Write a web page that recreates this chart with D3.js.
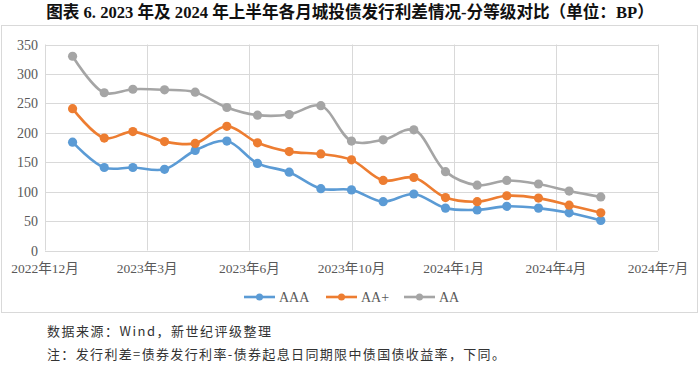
<!DOCTYPE html>
<meta charset="utf-8">
<script src="https://d3js.org/d3.v7.min.js"></script>
<style>
  body { margin: 0; background: #fff; }
  text { font-family: "Liberation Serif", "Noto Sans CJK SC", serif; }
</style>
<svg id="chart" width="700" height="365"></svg>
<script>
// months of 2023 H1 .. 2024 H1 (first of month)
const months = ["2023-01","2023-02","2023-03","2023-04","2023-05","2023-06","2023-07","2023-08","2023-09",
  "2023-10","2023-11","2023-12","2024-01","2024-02","2024-03","2024-04","2024-05","2024-06"];
const aaa   = [184,141,141,138,170,186,148,133,105,103,83,96,72,69,75,72,64,51];
const aaPlus= [241,191,202,185,182,211,183,168,164,154,119,124,90,83,93,89,77,64];
const aa    = [330,268,274,273,269,243,230,231,246,186,188,205,134,111,119,113,101,91];
const series = [
  { name: "AAA", values: aaa,    color: "#5B9BD5" },
  { name: "AA+", values: aaPlus, color: "#ED7D31" },
  { name: "AA",  values: aa,     color: "#A5A5A5" }
];
const yTicks = [0,50,100,150,200,250,300,350];
// Excel-style date axis: starts 2022-12-05, major unit 100 days
const axisStart = new Date(2022, 11, 5);
const xTicks = d3.range(0, 7).map(k => d3.timeDay.offset(axisStart, k * 100));

const svg = d3.select("#chart");
const parse = d3.timeParse("%Y-%m");

// title
svg.append("text")
  .attr("x", 350).attr("y", 17.5)
  .attr("text-anchor", "middle")
  .style("font-size", "16.6px").style("font-weight", "bold")
  .attr("fill", "#111")
  .text("图表 6. 2023 年及 2024 年上半年各月城投债发行利差情况-分等级对比（单位：BP）");

// chart frame
svg.append("rect")
  .attr("x", 1.5).attr("y", 25.5).attr("width", 696).attr("height", 287)
  .attr("fill", "none").attr("stroke", "#d9d9d9");

const x = d3.scaleTime()
  .domain([axisStart, xTicks[xTicks.length - 1]])
  .range([45, 658]);
const y = d3.scaleLinear().domain([0, 350]).range([250.5, 44.5]);

// grid
const g = svg.append("g");
g.selectAll(".hg").data(yTicks).enter().append("line")
  .attr("x1", 45).attr("x2", 658)
  .attr("y1", d => Math.round(y(d)) + 0.5).attr("y2", d => Math.round(y(d)) + 0.5)
  .attr("stroke", "#d9d9d9").attr("stroke-width", 1);
g.selectAll(".vg").data(xTicks).enter().append("line")
  .attr("x1", d => Math.round(x(d)) + 0.5).attr("x2", d => Math.round(x(d)) + 0.5)
  .attr("y1", y(350)).attr("y2", y(0))
  .attr("stroke", "#d9d9d9").attr("stroke-width", 1);

// y labels
svg.selectAll(".yl").data(yTicks).enter().append("text")
  .attr("x", 38).attr("y", d => y(d) + 5)
  .attr("text-anchor", "end")
  .style("font-size", "14px").attr("fill", "#595959")
  .text(d => d);

// x labels
const fmt = d3.timeFormat("%Y年%-m月");
svg.selectAll(".xl").data(xTicks).enter().append("text")
  .attr("x", d => x(d)).attr("y", 273)
  .attr("text-anchor", "middle")
  .style("font-size", "13.5px").attr("fill", "#595959")
  .text(d => fmt(d));

// lines
const line = d3.line()
  .x((d, i) => x(parse(months[i])))
  .y(d => y(d))
  .curve(d3.curveCatmullRom.alpha(0.5));

series.forEach(s => {
  svg.append("path")
    .attr("d", line(s.values))
    .attr("fill", "none").attr("stroke", s.color).attr("stroke-width", 2.6);
  svg.selectAll(null).data(s.values).enter().append("circle")
    .attr("cx", (d, i) => x(parse(months[i])))
    .attr("cy", d => y(d))
    .attr("r", 4.6).attr("fill", s.color);
});

// legend
const legendX = [244, 326, 404];
series.forEach((s, i) => {
  const lg = svg.append("g").attr("transform", `translate(${legendX[i]},297)`);
  lg.append("line").attr("x1", 0).attr("x2", 31).attr("y1", 0).attr("y2", 0)
    .attr("stroke", s.color).attr("stroke-width", 2.6);
  lg.append("circle").attr("cx", 15.5).attr("cy", 0).attr("r", 3.5).attr("fill", s.color);
  lg.append("text").attr("x", 35).attr("y", 5)
    .style("font-size", "14px").attr("fill", "#595959").text(s.name);
});

// notes
svg.append("text").attr("x", 47).attr("y", 336)
  .style("font-size", "13px").style("letter-spacing", "1.5px").attr("fill", "#333")
  .style("font-family", "'Noto Sans CJK SC', sans-serif")
  .text("数据来源：Wind，新世纪评级整理");
svg.append("text").attr("x", 47).attr("y", 359)
  .style("font-size", "13px").style("letter-spacing", "1.35px").attr("fill", "#333")
  .style("font-family", "'Noto Sans CJK SC', sans-serif")
  .text("注：发行利差=债券发行利率-债券起息日同期限中债国债收益率，下同。");
</script>
